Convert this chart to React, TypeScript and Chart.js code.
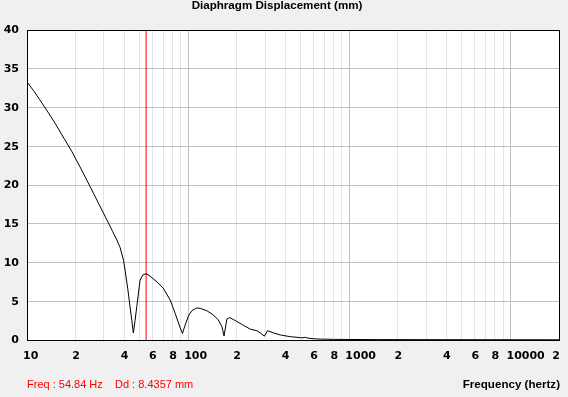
import React, { useEffect, useRef } from 'react';
import { Chart, registerables } from 'chart.js';

Chart.register(...registerables);

const chartTitle = 'Diaphragm Displacement (mm)';
const xAxisTitle = 'Frequency (hertz)';
const cursorFreq = 54.84;
const readoutFreq = 'Freq : 54.84 Hz';
const readoutDisp = 'Dd : 8.4357 mm';

const freqs = [
  10, 11, 12, 13.5, 15, 17, 19, 21.5, 24.5, 28, 32, 34, 36.1, 37.8, 39.7, 40.6, 42.2, 43.6, 44.7, 45.7,
  46.8, 48, 50.3, 52.3, 55, 58, 64, 70, 77.3, 83, 89, 92.2,
  95.8, 100.4, 105.4, 113, 118.7, 130.6, 143.7, 154, 162, 167,
  171, 174, 181, 200, 220, 243, 267, 285, 297, 311, 340, 373, 430, 500, 515, 527,
  560, 630, 800, 1500, 20000,
];
const disp = [
  33.3, 32.15, 31.0, 29.4, 27.9, 26.0, 24.3, 22.2, 19.9, 17.5, 15.1, 14.0, 12.9, 11.95, 10.3, 9.0, 6.6, 4.3, 2.5, 0.9,
  2.5, 4.3, 7.7, 8.4, 8.55, 8.25, 7.5, 6.7, 5.16, 3.45, 1.65, 0.86,
  1.94, 3.1, 3.78, 4.13, 4.09, 3.78, 3.22, 2.58, 1.72, 0.52,
  1.8, 2.7, 2.9, 2.4, 1.9, 1.4, 1.2, 0.8, 0.5, 1.2, 0.9, 0.65, 0.43, 0.3, 0.28, 0.35,
  0.22, 0.13, 0.08, 0.05, 0.03,
];

const xTickValues = [
  10, 20, 30, 40, 50, 60, 70, 80, 90,
  100, 200, 300, 400, 500, 600, 700, 800, 900,
  1000, 2000, 3000, 4000, 5000, 6000, 7000, 8000, 9000,
  10000, 20000,
];
const xLabelValues = [10, 20, 40, 60, 80, 100, 200, 400, 600, 800, 1000, 2000, 4000, 6000, 8000, 10000, 20000];
const xLabelTexts = ['10', '2', '4', '6', '8', '100', '2', '4', '6', '8', '1000', '2', '4', '6', '8', '10000', '2'];
const yTickValues = [0, 5, 10, 15, 20, 25, 30, 35, 40];

const isDecade = (v: number) => Math.abs(Math.log10(v) - Math.round(Math.log10(v))) < 1e-9;

const decorPlugin = {
  id: 'decor',
  beforeDraw(chart: any) {
    const { ctx, chartArea } = chart;
    ctx.save();
    ctx.fillStyle = '#f0f0f0';
    ctx.fillRect(0, 0, chart.width, chart.height);
    ctx.fillStyle = '#ffffff';
    ctx.fillRect(chartArea.left, chartArea.top, chartArea.right - chartArea.left, chartArea.bottom - chartArea.top);
    ctx.restore();
  },
  afterDraw(chart: any) {
    const { ctx, chartArea } = chart;
    const xs = chart.scales.x;
    const ys = chart.scales.y;
    ctx.save();
    ctx.strokeStyle = '#000';
    ctx.lineWidth = 1;
    ctx.strokeRect(chartArea.left + 0.5, chartArea.top + 0.5, chartArea.right - chartArea.left, chartArea.bottom - chartArea.top);

    ctx.fillStyle = '#000';
    ctx.font = 'bold 11px "DejaVu Sans"';
    ctx.textBaseline = 'middle';
    ctx.textAlign = 'right';
    yTickValues.forEach((v) => {
      ctx.fillText(String(v), 19, ys.getPixelForValue(v) + 0.5);
    });
    const ly = chartArea.bottom + 16;
    xLabelValues.forEach((v, i) => {
      const px = xs.getPixelForValue(v);
      const t = xLabelTexts[i];
      if (i === xLabelValues.length - 1) {
        ctx.textAlign = 'right';
        ctx.fillText(t, px + 1, ly);
      } else if (isDecade(v)) {
        ctx.textAlign = 'left';
        ctx.fillText(t, px - 4, ly);
      } else {
        ctx.textAlign = 'center';
        ctx.fillText(t, px + 0.5, ly);
      }
    });

    ctx.font = 'bold 11.6px "Liberation Sans"';
    ctx.textAlign = 'center';
    ctx.fillText(chartTitle, 277, 6);
    ctx.textAlign = 'right';
    ctx.fillText(xAxisTitle, chartArea.right + 1, 385);

    ctx.font = '11px "Liberation Sans"';
    ctx.fillStyle = '#ff0000';
    ctx.textAlign = 'left';
    ctx.fillText(readoutFreq, 27, 385);
    ctx.fillText(readoutDisp, 115, 385);
    ctx.restore();
  },
};

export default function App() {
  const ref = useRef<HTMLCanvasElement>(null);
  useEffect(() => {
    if (!ref.current) return;
    const chart = new Chart(ref.current, {
      type: 'line',
      data: {
        datasets: [
          {
            label: 'Displacement',
            data: freqs.map((f, i) => ({ x: f, y: disp[i] })),
            borderColor: '#000',
            borderWidth: 1,
            pointRadius: 0,
            tension: 0,
            fill: false,
            order: 0,
          },
          {
            label: 'Cursor',
            data: [
              { x: cursorFreq, y: 0 },
              { x: cursorFreq, y: 40 },
            ],
            borderColor: '#ff0000',
            borderWidth: 1,
            pointRadius: 0,
            tension: 0,
            fill: false,
            order: 1,
          },
        ],
      },
      options: {
        responsive: false,
        animation: false,
        devicePixelRatio: 1,
        layout: { padding: { left: 27, top: 30, right: 9, bottom: 57 } },
        plugins: { legend: { display: false }, tooltip: { enabled: false }, title: { display: false } },
        events: [],
        scales: {
          x: {
            type: 'logarithmic',
            min: 10,
            max: 20000,
            afterBuildTicks: (s: any) => {
              s.ticks = xTickValues.map((v) => ({ value: v }));
            },
            afterFit: (s: any) => {
              s.height = 0;
            },
            ticks: { display: false },
            border: { display: false },
            grid: {
              drawTicks: false,
              lineWidth: 1,
              color: (c: any) => (c.tick && isDecade(c.tick.value) ? '#c0c0c0' : '#e4e4e4'),
            },
          },
          y: {
            type: 'linear',
            min: 0,
            max: 40,
            afterBuildTicks: (s: any) => {
              s.ticks = yTickValues.map((v) => ({ value: v }));
            },
            afterFit: (s: any) => {
              s.width = 0;
            },
            ticks: { display: false },
            border: { display: false },
            grid: { drawTicks: false, lineWidth: 1, color: '#c0c0c0' },
          },
        },
      },
      plugins: [decorPlugin],
    } as any);
    return () => chart.destroy();
  }, []);
  return (
    <div style={{ position: 'fixed', left: 0, top: 0, width: 568, height: 397 }}>
      <canvas ref={ref} width={568} height={397} style={{ width: 568, height: 397, display: 'block' }} />
    </div>
  );
}
